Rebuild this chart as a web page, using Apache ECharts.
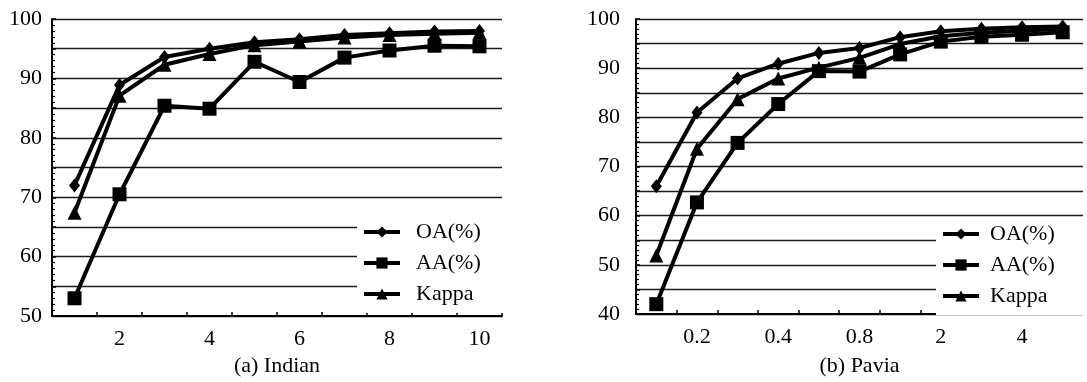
<!DOCTYPE html>
<html>
<head>
<meta charset="utf-8">
<script src="https://cdn.jsdelivr.net/npm/echarts@6/dist/echarts.min.js"></script>
<style>html,body{margin:0;padding:0;background:#fff}#c{width:1087px;height:382px}</style>
</head>
<body>
<div id="c"></div>
<script>
// Indian
var catIndian = ['1','2','3','4','5','6','7','8','9','10'];
var oaIndian = [72.0, 88.9, 93.6, 95.0, 96.1, 96.6, 97.3, 97.6, 97.9, 98.0];
var aaIndian = [53.0, 70.5, 85.4, 84.9, 92.8, 89.4, 93.5, 94.7, 95.5, 95.4];
var kappaIndian = [67.4, 87.1, 92.3, 94.1, 95.6, 96.2, 96.9, 97.3, 97.5, 97.7];
// Pavia
var catPavia = ['0.1','0.2','0.3','0.4','0.6','0.8','1','2','3','4','5'];
var oaPavia = [66.0, 81.0, 87.9, 90.9, 93.1, 94.1, 96.3, 97.5, 98.0, 98.3, 98.5];
var aaPavia = [42.0, 62.7, 74.8, 82.7, 89.4, 89.3, 92.8, 95.4, 96.4, 96.8, 97.3];
var kappaPavia = [51.9, 73.6, 83.7, 87.9, 90.1, 92.1, 94.9, 96.5, 97.2, 97.6, 98.0];
var seriesNames = ['OA(%)', 'AA(%)', 'Kappa'];
var xNames = ['(a) Indian', '(b) Pavia'];

var FONT = '"Liberation Serif", "Times New Roman", serif';
var FS = 22;
var symbols = [['diamond', [11, 14]], ['rect', 14], ['triangle', 14]];

function yAxis(gi, min, margin) {
  return {
    type: 'value', gridIndex: gi, min: min, max: 100, interval: 5,
    axisLine: {show: true, lineStyle: {color: '#000', width: 2}},
    axisTick: {show: true, inside: true, length: 4, lineStyle: {color: '#000', width: 1.5}},
    minorTick: {show: true, splitNumber: 5, length: 3, lineStyle: {color: '#000', width: 1.2}},
    splitLine: {show: true, lineStyle: {color: '#1a1a1a', width: 1.4}},
    axisLabel: {
      margin: margin, color: '#000', fontFamily: FONT, fontSize: FS,
      formatter: function (v) { return v % 10 === 0 ? String(v) : ''; }
    }
  };
}
function xAxis(gi, cats, name, nameGap) {
  return {
    type: 'category', gridIndex: gi, data: cats, boundaryGap: true,
    name: name, nameLocation: 'middle', nameGap: nameGap,
    nameTextStyle: {color: '#000', fontFamily: FONT, fontSize: FS},
    axisLine: {show: true, lineStyle: {color: '#000', width: 2}},
    axisTick: {show: true, inside: true, length: 4, interval: 0, lineStyle: {color: '#000', width: 1.5}},
    splitLine: {show: false},
    axisLabel: {
      margin: 12, color: '#000', fontFamily: FONT, fontSize: FS,
      interval: function (i) { return i % 2 === 1; }
    }
  };
}
function mkSeries(gi, arrs) {
  return arrs.map(function (d, k) {
    return {
      name: seriesNames[k], type: 'line', xAxisIndex: gi, yAxisIndex: gi, data: d,
      symbol: symbols[k][0], symbolSize: symbols[k][1], showAllSymbol: true,
      lineStyle: {color: '#000', width: 4}, itemStyle: {color: '#000'},
      z: 3 + (2 - k), animation: false
    };
  });
}
function legend(left, top, padRight, textGap) {
  return {
    left: left, top: top, orient: 'vertical', backgroundColor: '#fff',
    padding: [5, padRight, 8, 5], itemGap: 9, itemWidth: 36, itemHeight: 14,
    lineStyle: {width: 4, color: '#000'},
    textStyle: {color: '#000', fontFamily: FONT, fontSize: FS, lineHeight: 22, padding: [0, 0, 0, textGap]},
    data: seriesNames, selectedMode: false
  };
}

var chart = echarts.init(document.getElementById('c'), null, {renderer: 'canvas'});
chart.setOption({
  animation: false,
  backgroundColor: '#fff',
  grid: [
    {left: 52, top: 19, width: 450, height: 298},
    {left: 636, top: 19, width: 447, height: 298}
  ],
  xAxis: [xAxis(0, catIndian, xNames[0], 38), xAxis(1, catPavia, xNames[1], 41)],
  yAxis: [yAxis(0, 50, 10), yAxis(1, 40, 16)],
  legend: [legend(357, 216, 34, 11), legend(936, 218, 40, 6)],
  series: mkSeries(0, [oaIndian, aaIndian, kappaIndian]).concat(mkSeries(1, [oaPavia, aaPavia, kappaPavia]))
});
</script>
</body>
</html>
